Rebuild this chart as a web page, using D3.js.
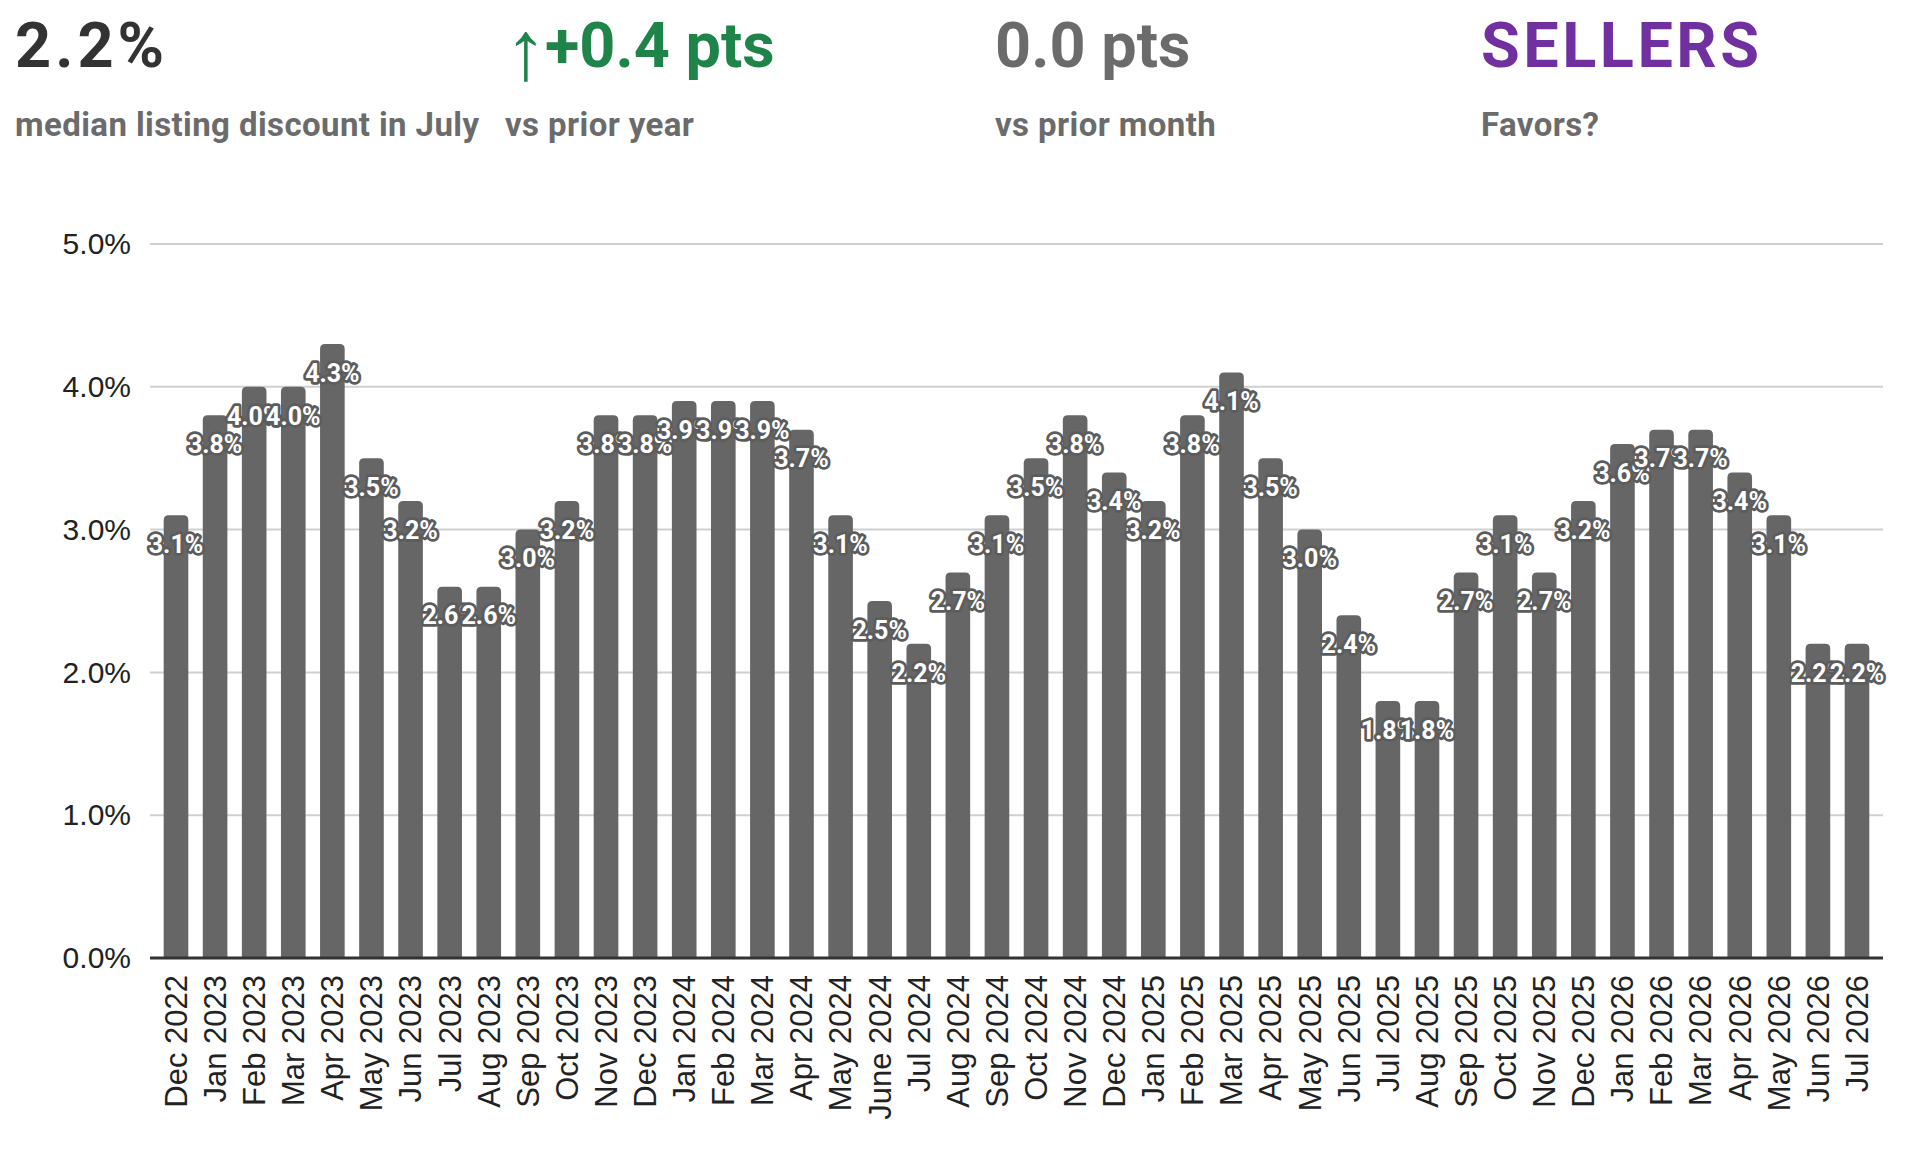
<!DOCTYPE html>
<html>
<head>
<meta charset="utf-8">
<script src="https://cdn.jsdelivr.net/npm/d3@7"></script>
<style>
  html, body { margin: 0; padding: 0; background: #fff; }
  svg { display: block; }
</style>
</head>
<body>
<svg id="chart" width="1906" height="1154"></svg>
<script>
// ---- data ----
const categories = [
  "Dec 2022",
  "Jan 2023","Feb 2023","Mar 2023","Apr 2023","May 2023","Jun 2023","Jul 2023","Aug 2023","Sep 2023","Oct 2023","Nov 2023","Dec 2023",
  "Jan 2024","Feb 2024","Mar 2024","Apr 2024","May 2024","June 2024","Jul 2024","Aug 2024","Sep 2024","Oct 2024","Nov 2024","Dec 2024",
  "Jan 2025","Feb 2025","Mar 2025","Apr 2025","May 2025","Jun 2025","Jul 2025","Aug 2025","Sep 2025","Oct 2025","Nov 2025","Dec 2025",
  "Jan 2026","Feb 2026","Mar 2026","Apr 2026","May 2026","Jun 2026","Jul 2026"
];
const discountValues = [
  3.1,
  3.8,4.0,4.0,4.3,3.5,3.2,2.6,2.6,3.0,3.2,3.8,3.8,
  3.9,3.9,3.9,3.7,3.1,2.5,2.2,2.7,3.1,3.5,3.8,3.4,
  3.2,3.8,4.1,3.5,3.0,2.4,1.8,1.8,2.7,3.1,2.7,3.2,
  3.6,3.7,3.7,3.4,3.1,2.2,2.2
];
const yTickValues = [0, 1, 2, 3, 4, 5];
const headlineValues = ["2.2%", "\u2191+0.4 pts", "0.0 pts", "SELLERS"];
const headlineCaptions = ["median listing discount in July", "vs prior year", "vs prior month", "Favors?"];

// ---- styles / layout ----
const headlineColors = ["#333333", "#1e8449", "#6b6b6b", "#7030a0"];
const headlineSpacing = [4, 0, 0, 3.5];
const headlineX = [15, 505, 995, 1481];
const plot = { left: 150, right: 1883, top: 244, bottom: 958 };

const svg = d3.select("#chart");

// ---- header ----
const head = svg.append("g");
const big = head.selectAll("text.big").data(headlineValues).join("text")
  .attr("class", "big")
  .attr("x", (d, i) => headlineX[i])
  .attr("y", 67)
  .attr("fill", (d, i) => headlineColors[i])
  .style("font-family", "Roboto, 'Noto Sans', sans-serif")
  .style("font-weight", 700)
  .style("font-size", "63px")
  .style("letter-spacing", (d, i) => headlineSpacing[i] + "px");
big.each(function(d) {
  const t = d3.select(this);
  if (d.startsWith("\u2191")) {
    t.append("tspan")
      .style("font-size", "84px")
      .style("font-weight", 400)
      .attr("dy", 12)
      .text("\u2191");
    t.append("tspan")
      .attr("dy", -12)
      .attr("dx", -2)
      .text(d.slice(1));
  } else {
    t.text(d);
  }
});
head.selectAll("text.cap").data(headlineCaptions).join("text")
  .attr("class", "cap")
  .attr("x", (d, i) => headlineX[i])
  .attr("y", 136)
  .attr("fill", "#6b6b6b")
  .style("font-family", "Roboto, 'Noto Sans', sans-serif")
  .style("font-weight", 700)
  .style("font-size", "33px")
  .style("letter-spacing", "0.4px")
  .text(d => d);

// ---- scales ----
const x = d3.scaleBand()
  .domain(categories)
  .range([plot.left, plot.right])
  .paddingInner(0.37)
  .paddingOuter(0.35);
const y = d3.scaleLinear().domain([0, 5]).range([plot.bottom, plot.top]);

// ---- gridlines ----
svg.append("g").selectAll("line").data(yTickValues.filter(v => v > 0)).join("line")
  .attr("x1", plot.left).attr("x2", plot.right)
  .attr("y1", d => y(d)).attr("y2", d => y(d))
  .attr("stroke", "#d0d0d0").attr("stroke-width", 2);

// ---- y axis ----
const yAxis = svg.append("g")
  .attr("transform", `translate(${plot.left},0)`)
  .call(d3.axisLeft(y).tickValues(yTickValues).tickSize(0).tickPadding(19)
    .tickFormat(d => d3.format(".1f")(d) + "%"));
yAxis.select(".domain").remove();
yAxis.selectAll("text")
  .attr("fill", "#222")
  .style("font-family", "'Liberation Sans', Arial, sans-serif")
  .style("font-size", "30px");

// ---- bars ----
const r = 5;
function barPath(d, i) {
  const x0 = x(categories[i]), w = x.bandwidth();
  const y0 = y(d), yb = y(0);
  return `M${x0},${yb} L${x0},${y0 + r} Q${x0},${y0} ${x0 + r},${y0} L${x0 + w - r},${y0} Q${x0 + w},${y0} ${x0 + w},${y0 + r} L${x0 + w},${yb} Z`;
}
svg.append("g").selectAll("path").data(discountValues).join("path")
  .attr("d", barPath)
  .attr("fill", "#666666");

// ---- x axis ----
const xAxis = svg.append("g")
  .attr("transform", `translate(0,${plot.bottom})`)
  .call(d3.axisBottom(x).tickSize(0).tickPadding(0));
xAxis.select(".domain").remove();
xAxis.selectAll("text")
  .attr("transform", "rotate(-90)")
  .attr("x", -17)
  .attr("y", 0)
  .attr("dy", "0.35em")
  .attr("text-anchor", "end")
  .attr("fill", "#222")
  .style("font-family", "'Liberation Sans', Arial, sans-serif")
  .style("font-size", "31px");

svg.append("line")
  .attr("x1", plot.left).attr("x2", plot.right)
  .attr("y1", y(0)).attr("y2", y(0))
  .attr("stroke", "#333").attr("stroke-width", 3);

// ---- data labels ----
svg.append("g").selectAll("text").data(discountValues).join("text")
  .attr("x", (d, i) => x(categories[i]) + x.bandwidth() / 2)
  .attr("y", d => y(d) + 29)
  .attr("dy", "0.35em")
  .attr("text-anchor", "middle")
  .attr("fill", "#ffffff")
  .attr("stroke", "#5c5c5c")
  .attr("stroke-width", 5.5)
  .attr("stroke-linejoin", "round")
  .attr("paint-order", "stroke")
  .style("font-family", "Roboto, 'Noto Sans', sans-serif")
  .style("font-weight", 700)
  .style("font-size", "25px")
  .text(d => d3.format(".1f")(d) + "%");
</script>
</body>
</html>
